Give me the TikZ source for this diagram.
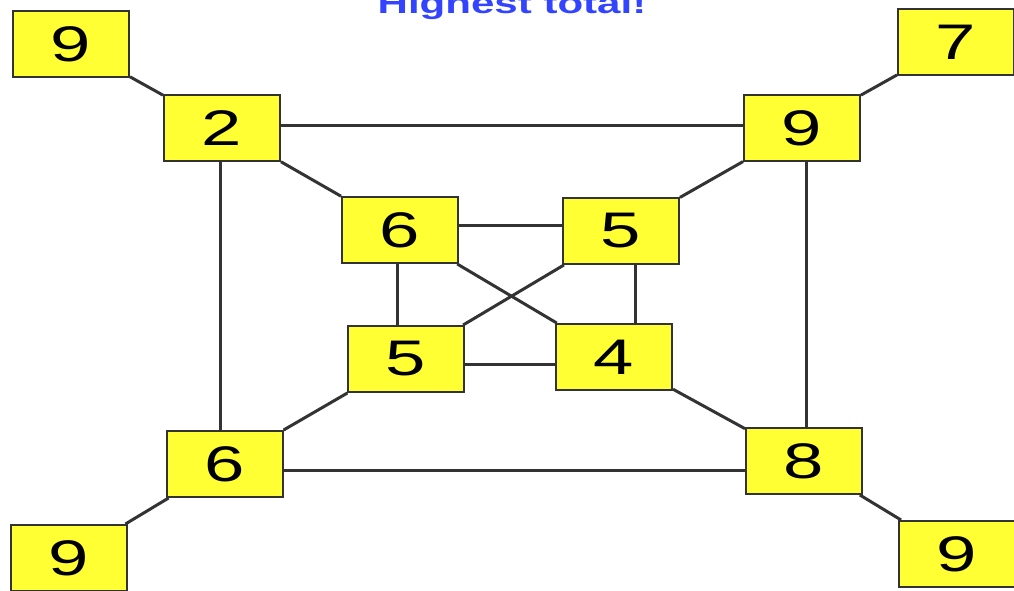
\documentclass[tikz,border=0pt]{standalone}
\usepackage{fontspec}
\setmainfont{Liberation Sans}
\usepackage{graphicx}
\usetikzlibrary{backgrounds}
\definecolor{boxyellow}{HTML}{FFFF33}
\definecolor{edgegray}{HTML}{333333}
\definecolor{titleblue}{HTML}{3344FF}
\newcommand{\wide}[1]{\scalebox{1.45}[1]{#1}}
\begin{document}
\begin{tikzpicture}[x=1pt,y=-1pt,
    box/.style={draw=edgegray,line width=2pt,fill=boxyellow,minimum width=116pt,minimum height=66pt,inner sep=0pt,font=\fontsize{50}{50}\selectfont},
    link/.style={draw=edgegray,line width=3pt}]
    \useasboundingbox (0,0) rectangle (1014,591);
    \node[titleblue,font=\bfseries\fontsize{29}{29}\selectfont,anchor=base] (title) at (512,14) {\wide{Highest total!}};
    \node[box] (tl9) at (71,44) {\wide{9}};
    \node[box] (tr7) at (956,42) {\wide{7}};
    \node[box] (bl9) at (69,558) {\wide{9}};
    \node[box] (br9) at (957,554) {\wide{9}};
    \node[box] (a2) at (222,128) {\wide{2}};
    \node[box] (b9) at (802,128) {\wide{9}};
    \node[box] (c6) at (225,464) {\wide{6}};
    \node[box] (d8) at (804,461) {\wide{8}};
    \node[box] (p6) at (400,230) {\wide{6}};
    \node[box] (q5) at (621,231) {\wide{5}};
    \node[box] (r5) at (406,359) {\wide{5}};
    \node[box] (s4) at (614,357) {\wide{4}};
    \begin{scope}[on background layer]
        \draw[link] (tl9) -- (a2);
        \draw[link] (tr7) -- (b9);
        \draw[link] (bl9) -- (c6);
        \draw[link] (br9) -- (d8);
        \draw[link] ([yshift=2pt]a2.east) -- ([yshift=2pt]a2.east -| b9.west);
        \draw[link] ([yshift=-6pt]c6.east) -- ([yshift=-6pt]c6.east -| d8.west);
        \draw[link] ([xshift=-2pt]a2.south) -- ([xshift=-2pt]a2.south |- c6.north);
        \draw[link] ([xshift=4pt]b9.south) -- ([xshift=4pt]b9.south |- d8.north);
        \draw[link] (a2) -- (p6);
        \draw[link] (b9) -- (q5);
        \draw[link] (c6) -- (r5);
        \draw[link] (d8) -- (s4);
        \draw[link] ([yshift=5pt]p6.east) -- ([yshift=5pt]p6.east -| q5.west);
        \draw[link] ([yshift=-5pt]r5.east) -- ([yshift=-5pt]r5.east -| s4.west);
        \draw[link] ([xshift=-3pt]p6.south) -- ([xshift=-3pt]p6.south |- r5.north);
        \draw[link] ([xshift=14pt]q5.south) -- ([xshift=14pt]q5.south |- s4.north);
        \draw[link] (p6) -- (s4);
        \draw[link] (q5) -- (r5);
    \end{scope}
\end{tikzpicture}
\end{document}
